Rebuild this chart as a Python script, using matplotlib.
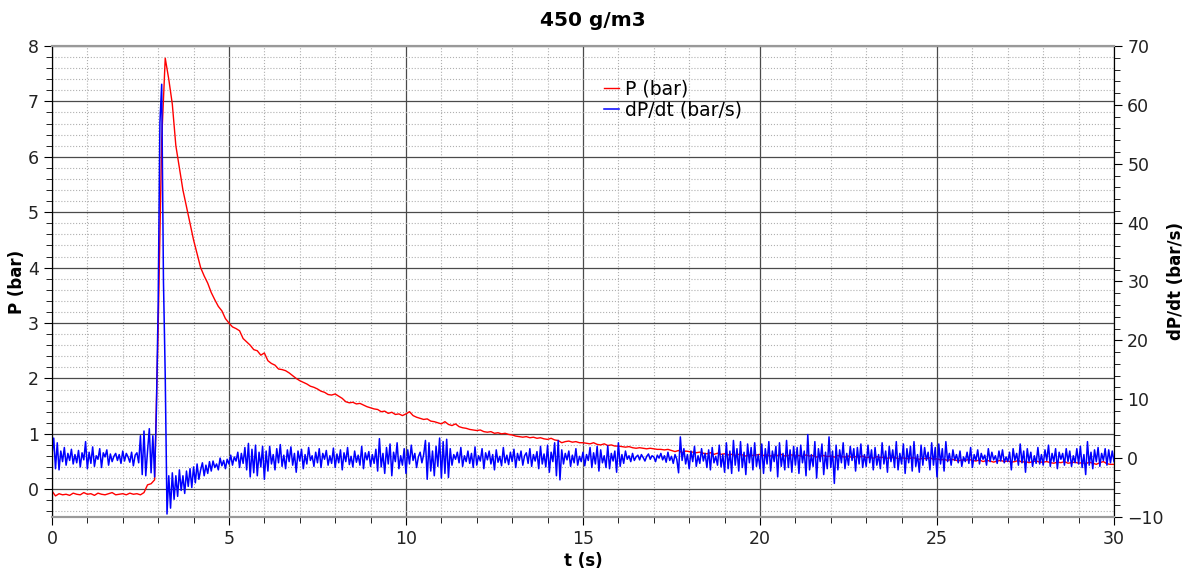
import numpy as np
import matplotlib.pyplot as plt
from matplotlib.ticker import MultipleLocator

# pression (bar), un point tous les 0.1 s de 0 a 30 s
p_bar = [
    -0.03, -0.12, -0.08, -0.10, -0.09, -0.11, -0.07, -0.09, -0.10, -0.06,
    -0.09, -0.08, -0.11, -0.07, -0.09, -0.10, -0.08, -0.06, -0.10, -0.09,
    -0.08, -0.10, -0.07, -0.09, -0.08, -0.10, -0.06, 0.08, 0.10, 0.17,
    2.90, 6.30, 7.78, 7.40, 6.95, 6.20, 5.80, 5.40, 5.10, 4.80,
    4.50, 4.25, 4.00, 3.85, 3.72, 3.55, 3.42, 3.30, 3.22, 3.08,
    3.00, 2.93, 2.90, 2.86, 2.72, 2.66, 2.60, 2.52, 2.50, 2.42,
    2.46, 2.32, 2.27, 2.24, 2.17, 2.16, 2.14, 2.10, 2.05, 2.00,
    1.96, 1.93, 1.90, 1.86, 1.84, 1.81, 1.77, 1.75, 1.71, 1.70,
    1.72, 1.68, 1.64, 1.58, 1.56, 1.57, 1.54, 1.55, 1.52, 1.49,
    1.47, 1.45, 1.44, 1.40, 1.41, 1.37, 1.39, 1.35, 1.36, 1.33,
    1.36, 1.40, 1.33, 1.30, 1.28, 1.26, 1.27, 1.23, 1.22, 1.20,
    1.18, 1.22, 1.17, 1.15, 1.18, 1.13, 1.11, 1.10, 1.08, 1.07,
    1.06, 1.07, 1.04, 1.03, 1.04, 1.01, 1.02, 1.00, 1.01, 0.99,
    0.98, 0.96, 0.95, 0.94, 0.95, 0.93, 0.94, 0.92, 0.93, 0.91,
    0.90, 0.92, 0.89, 0.88, 0.84, 0.86, 0.87, 0.85, 0.86, 0.84,
    0.84, 0.83, 0.82, 0.84, 0.81, 0.80, 0.82, 0.79, 0.80, 0.78,
    0.78, 0.77, 0.76, 0.77, 0.75, 0.74, 0.75, 0.74, 0.73, 0.74,
    0.73, 0.72, 0.72, 0.71, 0.72, 0.70, 0.68, 0.70, 0.66, 0.69,
    0.68, 0.67, 0.66, 0.67, 0.65, 0.64, 0.66, 0.63, 0.65, 0.63,
    0.64, 0.62, 0.63, 0.61, 0.63, 0.62, 0.60, 0.62, 0.61, 0.62,
    0.63, 0.61, 0.62, 0.60, 0.62, 0.61, 0.63, 0.60, 0.61, 0.62,
    0.60, 0.61, 0.59, 0.62, 0.60, 0.61, 0.58, 0.60, 0.61, 0.59,
    0.60, 0.58, 0.61, 0.59, 0.58, 0.60, 0.57, 0.59, 0.58, 0.60,
    0.57, 0.58, 0.56, 0.59, 0.57, 0.58, 0.56, 0.57, 0.58, 0.55,
    0.57, 0.56, 0.55, 0.57, 0.56, 0.54, 0.56, 0.55, 0.57, 0.54,
    0.55, 0.53, 0.54, 0.52, 0.54, 0.53, 0.51, 0.53, 0.52, 0.54,
    0.52, 0.51, 0.53, 0.50, 0.52, 0.51, 0.49, 0.51, 0.52, 0.50,
    0.51, 0.49, 0.50, 0.52, 0.49, 0.50, 0.48, 0.50, 0.51, 0.49,
    0.49, 0.50, 0.48, 0.47, 0.49, 0.48, 0.50, 0.47, 0.48, 0.49,
    0.47, 0.48, 0.46, 0.49, 0.47, 0.45, 0.48, 0.50, 0.46, 0.45,
    0.45,
]

# dP/dt (bar/s), un point tous les 0.05 s
dpdt = [
    0.5, 3.4, -1.8, 2.6, -2.0, 1.2, -0.6, 1.8, -1.2, 0.8, -0.4, 1.5, -1.0, 0.6, -0.8, 1.3, -1.5, 0.9, -0.3, 2.8,
    -1.8, 1.0, -0.9, 1.9, -1.4, 0.4, -0.2, 1.6, -1.6, 0.9, 0.2, 1.4, -1.2, 0.7, -0.6, 0.3, 0.8, -0.4, 0.6, -0.9,
    1.2, -0.5, 0.8, 0.2, -0.7, 1.0, -1.3, 0.5, 0.9, -0.8, 3.8, -2.8, 4.6, -3.0, 1.2, 5.0, -2.5, 3.8, -3.2, 8.0,
    26.0, 57.0, 63.5, 30.0, 14.0, -9.5, -3.0, -8.5, -2.5, -7.0, -3.0, -6.5, -2.0, -5.5, -3.0, -6.0, -2.2, -4.8, -1.8, -5.0,
    -1.5, -4.2, -1.0, -3.6, -2.0, -0.8, -3.0, -1.2, -2.6, -0.6, -2.2, -0.5, -1.6, -1.0, -2.0, 0.0, -1.3, -0.4, -1.8, -0.2,
    -1.0, 0.5, -1.2, 0.2, -0.5, 1.0, -1.6, 0.8, -0.9, 1.8, -2.0, 2.5, -3.2, 1.5, -2.5, 2.2, -3.0, 1.0, -1.5, 2.0,
    -3.6, 1.2, -2.2, 2.0, -1.0, 0.6, -2.0, 1.6, -0.8, 2.3, -1.4, 0.5, -1.8, 1.4, -0.6, 1.9, -1.2, 0.8, -2.4, 1.2,
    -0.5, 1.5, -1.8, 0.6, -1.0, 1.8, -0.4, 0.4, -1.4, 1.0, -0.8, 1.6, -1.6, 0.8, -0.2, 1.3, -1.2, 0.4, -0.9, 1.7,
    -1.6, 0.7, -0.8, 1.4, -2.0, 0.9, -0.6, 1.8, -1.1, 0.3, -1.5, 1.2, -0.7, 0.5, -1.2, 2.0, -1.8, 0.9, -0.3, 1.1,
    -1.4, 0.6, -0.9, 1.5, -2.2, 3.3, -1.5, 0.8, -2.6, 1.8, -1.0, 2.4, -3.0, 1.0, -0.6, 2.6, -1.8, 0.4, -1.2, 1.6,
    -2.6, 1.4, -1.0, 2.2, -0.4, 0.8, -1.6, 0.2, 1.0, -0.8, 0.6, 3.0, -3.6, 2.6, -2.2, 1.2, -3.0, 2.0, -1.4, 3.4,
    -3.4, 2.8, -2.6, 3.2, -3.3, 1.6, -1.2, 0.6, -0.2, 1.0, -0.8, 1.8, -1.4, 0.4, -0.6, 1.2, -0.9, 0.8, -1.6, 1.9,
    -1.2, 0.4, -0.5, 1.6, -1.8, 0.9, -0.3, 1.2, -1.0, 0.6, -2.0, 1.4, -0.7, 0.3, -1.3, 1.8, -0.8, 0.5, -1.1, 1.0,
    -0.6, 1.5, -1.6, 0.8, -0.4, 1.2, -1.2, 0.4, 0.9, -0.9, 1.6, -1.4, 0.6, -0.5, 1.1, -1.8, 2.0, -1.0, 0.7, -1.5,
    2.2, -2.4, 1.0, -0.6, 2.6, -3.0, 3.0, -3.7, 1.4, -1.0, 0.8, -0.3, 1.2, -1.4, 0.5, -0.8, 1.6, -1.2, 0.3, -0.6,
    1.0, -1.3, 0.6, -0.4, 1.8, -1.6, 0.9, -1.0, 2.0, -2.2, 1.4, -0.8, 0.4, -1.6, 2.1, -1.8, 0.8, -0.5, 1.2, -2.4,
    2.6, -1.4, 0.6, -0.9, 1.2, -0.2, 0.4, -0.6, 0.8, -0.4, 0.2, 0.5, -0.3, 0.6, 0.1, -0.5, 0.3, 0.7, -0.2, 0.4,
    0.2, -0.6, 0.5, 0.0, 0.8, -0.3, 0.4, -0.7, 1.0, -0.4, 0.3, -0.9, 0.6, -0.2, -2.5, 3.6, -0.4, 1.6, -1.0, 0.6,
    -1.8, 1.2, -0.6, 2.0, -1.4, 0.4, -0.9, 1.6, -0.5, 0.8, -1.6, 1.4, -2.0, 1.8, -0.8, 0.3, -1.2, 2.2, -1.5, 0.6,
    -2.4, 2.6, -1.8, 1.2, -2.6, 3.0, -1.2, 1.6, -2.2, 2.8, -1.6, 1.0, -2.8, 2.4, -0.8, 1.8, -2.0, 2.6, -1.4, 0.6,
    -1.8, 2.4, -2.6, 1.6, -1.0, 2.8, -2.2, 1.2, -0.6, 2.0, -3.2, 2.6, -1.4, 0.8, -2.0, 3.0, -1.6, 1.4, -2.4, 2.0,
    -1.2, 1.8, -2.6, 2.2, -0.8, 1.2, -3.0, 4.0, -2.0, 0.6, -1.4, 2.8, -3.4, 1.6, -0.6, 2.4, -2.8, 1.0, -1.8, 3.6,
    -1.6, 1.2, -4.3, 2.2, -2.0, 1.4, -0.8, 2.6, -1.8, 0.8, -1.2, 2.0, -0.4, 1.6, -2.2, 1.8, -1.0, 2.4, -1.6, 0.6,
    -1.4, 2.2, -0.8, 1.4, -2.0, 1.8, -1.2, 0.6, -1.8, 2.6, -1.0, 1.2, -2.4, 2.0, -0.6, 1.4, -1.6, 2.8, -2.0, 0.8,
    -1.0, 2.4, -2.6, 1.6, -0.8, 2.0, -2.2, 2.8, -1.4, 0.6, -2.4, 2.2, -1.2, 1.8, -0.4, 1.0, -2.0, 2.6, -1.2, 1.8,
    -3.2, 2.4, -1.0, 1.6, -2.2, 2.8, -0.6, 0.8, -1.2, 1.4, -0.4, 0.6, -0.8, 1.2, -1.4, 0.2, -0.6, 1.0, -0.9, 1.8,
    -1.6, 0.6, -0.4, 1.4, -1.0, 0.8, -0.2, 0.5, -1.2, 1.6, -0.6, 1.0, -0.3, 0.4, -0.9, 1.2, -0.5, 1.4, -0.8, 0.2,
    -0.6, 1.0, -2.0, 1.6, -0.4, 0.8, -1.2, 2.4, -0.8, 1.2, -2.4, 1.6, -0.6, 1.0, -1.4, 0.4, -0.9, 1.8, -1.0, 0.6,
    -1.2, 1.4, -0.4, 2.2, -1.4, 0.8, -0.6, 1.6, -1.8, 1.0, -0.2, 0.8, -1.2, 1.6, -0.6, 1.2, -1.4, 0.4, -0.8, 1.6,
    -1.0, 2.0, -1.6, 0.6, -2.8, 2.8, -1.2, 1.0, -1.8, 1.4, -0.6, 1.8, -1.4, 0.8, -0.4, 1.6, -1.2, 1.4, -0.8, 1.2,
    -0.6,
]

t_p = np.linspace(0, 30, len(p_bar))
t_d = np.linspace(0, 30, len(dpdt))

fig = plt.figure(figsize=(11.86, 5.72), dpi=100)
ax = fig.add_axes([0.0438, 0.0962, 0.8955, 0.8234])
ax2 = ax.twinx()

l1, = ax.plot(t_p, p_bar, color="red", lw=1.0, label="P (bar)")
l2, = ax2.plot(t_d, dpdt, color="blue", lw=1.1, label="dP/dt (bar/s)")

ax.set_xlim(0, 30)
ax.set_ylim(-0.5, 8)
ax2.set_ylim(-10, 70)

ax.xaxis.set_major_locator(MultipleLocator(5))
ax.xaxis.set_minor_locator(MultipleLocator(1))
ax.yaxis.set_major_locator(MultipleLocator(1))
ax.yaxis.set_minor_locator(MultipleLocator(0.2))
ax2.yaxis.set_major_locator(MultipleLocator(10))
ax2.yaxis.set_minor_locator(MultipleLocator(2))

ax.grid(which="major", color="#4a4a4a", lw=0.9, ls="-")
ax.grid(which="minor", color="#b0b0b0", lw=0.8, ls=":")
ax.set_axisbelow(True)

for a in (ax, ax2):
    a.tick_params(which="major", length=6, labelsize=12.5, labelcolor="#222222")
    a.tick_params(which="minor", length=4)
    a.spines["top"].set_color("#999999")
    a.spines["top"].set_linewidth(1.5)
    a.spines["bottom"].set_color("#999999")
    a.spines["bottom"].set_linewidth(1.5)

ax.set_xlabel("t (s)", fontsize=12, fontweight="bold")
ax.xaxis.set_label_coords(0.5, -0.074)
ax.set_ylabel("P (bar)", fontsize=12, fontweight="bold")
ax.yaxis.set_label_coords(-0.0245, 0.5)
ax2.set_ylabel("dP/dt (bar/s)", fontsize=12, fontweight="bold")
ax2.yaxis.set_label_coords(1.050, 0.5)
fig.text(0.5, 0.965, "450 g/m3", fontsize=14.5, fontweight="bold", ha="center", va="center")

ax2.legend([l1, l2], ["P (bar)", "dP/dt (bar/s)"], loc="upper left",
           bbox_to_anchor=(0.513, 0.944), frameon=False, fontsize=13.5,
           handlelength=0.8, handletextpad=0.3, borderaxespad=0, labelspacing=0.1)

fig.savefig("out.png", dpi=100)
